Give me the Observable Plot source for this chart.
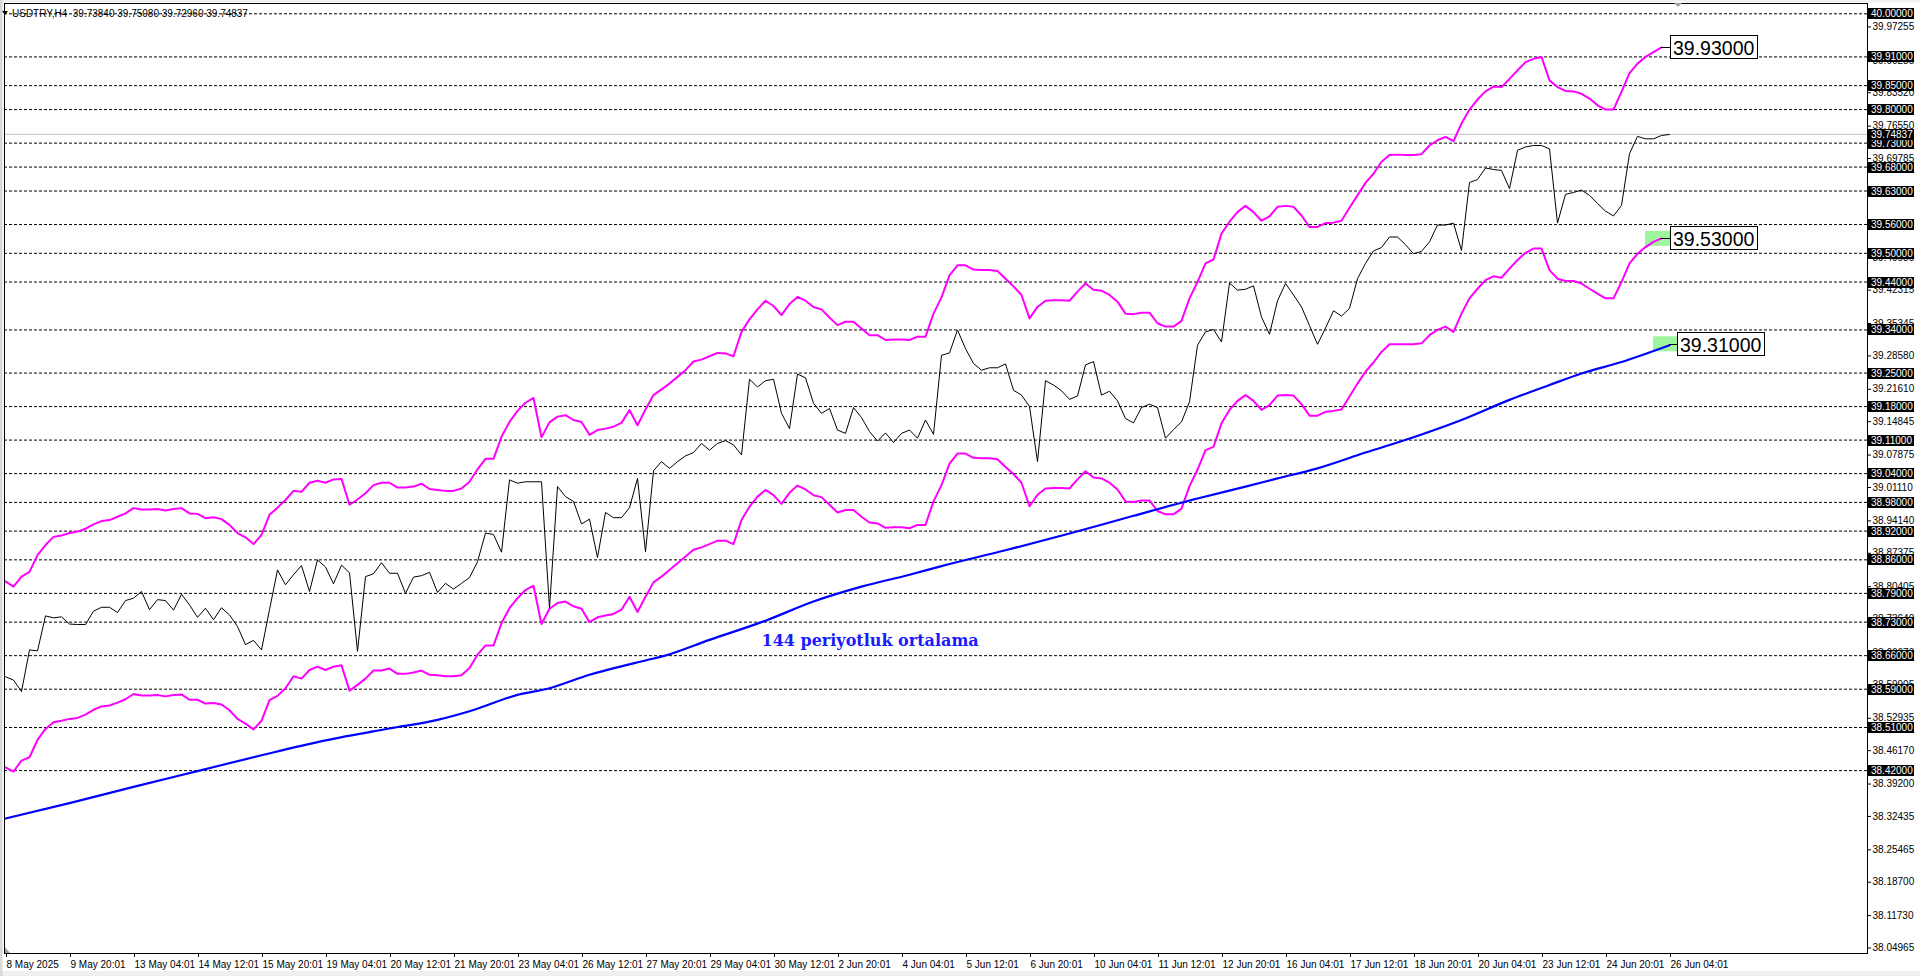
<!DOCTYPE html>
<html><head><meta charset="utf-8">
<script src="https://cdn.jsdelivr.net/npm/d3@7"></script>
<script src="https://cdn.jsdelivr.net/npm/@observablehq/plot@0.6"></script>
<style>html,body{margin:0;padding:0;background:#fff;overflow:hidden}svg{display:block}</style>
</head><body><div id="chart"></div>
<script>
// ---- data ----
const titleText = "USDTRY,H4  39.73840 39.75080 39.72960 39.74837";
const xLabels = ["8 May 2025","9 May 20:01","13 May 04:01","14 May 12:01","15 May 20:01","19 May 04:01","20 May 12:01","21 May 20:01","23 May 04:01","26 May 12:01","27 May 20:01","29 May 04:01","30 May 12:01","2 Jun 20:01","4 Jun 04:01","5 Jun 12:01","6 Jun 20:01","10 Jun 04:01","11 Jun 12:01","12 Jun 20:01","16 Jun 04:01","17 Jun 12:01","18 Jun 20:01","20 Jun 04:01","23 Jun 12:01","24 Jun 20:01","26 Jun 04:01"];
const xTickIdx = [0,8,16,24,32,40,48,56,64,72,80,88,96,104,112,120,128,136,144,152,160,168,176,184,192,200,208];
const levels = [40.00,39.91,39.85,39.80,39.73,39.68,39.63,39.56,39.50,39.44,39.34,39.25,39.18,39.11,39.04,38.98,38.92,38.86,38.79,38.73,38.66,38.59,38.51,38.42];
const yTickVals = [39.97255,39.90285,39.83520,39.76550,39.69785,39.62815,39.56050,39.49080,39.42315,39.35345,39.28580,39.21610,39.14845,39.07875,39.01110,38.94140,38.87375,38.80405,38.73640,38.66670,38.59905,38.52935,38.46170,38.39200,38.32435,38.25465,38.18700,38.11730,38.04965];
const lastPrice = 39.74837;

const closeVals = [
38.616,38.609,38.585,38.672,38.670,38.743,38.739,38.741,38.726,38.725,
38.725,38.753,38.761,38.761,38.750,38.775,38.780,38.794,38.756,38.777,
38.775,38.755,38.788,38.766,38.740,38.759,38.735,38.760,38.745,38.721,
38.683,38.692,38.672,38.756,38.839,38.808,38.829,38.848,38.794,38.860,
38.845,38.810,38.849,38.833,38.669,38.825,38.831,38.854,38.832,38.832,
38.790,38.824,38.827,38.834,38.792,38.811,38.799,38.811,38.823,38.856,
38.916,38.913,38.876,39.027,39.020,39.023,39.023,39.023,38.759,39.013,
38.992,38.982,38.935,38.945,38.865,38.959,38.948,38.948,38.969,39.030,
38.877,39.046,39.065,39.051,39.065,39.077,39.084,39.103,39.089,39.103,
39.109,39.100,39.079,39.237,39.221,39.234,39.237,39.166,39.134,39.248,
39.240,39.187,39.166,39.176,39.131,39.124,39.178,39.157,39.128,39.108,
39.125,39.105,39.124,39.131,39.114,39.152,39.122,39.287,39.292,39.340,
39.301,39.270,39.256,39.261,39.261,39.269,39.214,39.204,39.180,39.065,
39.234,39.225,39.213,39.195,39.202,39.267,39.274,39.204,39.212,39.192,
39.155,39.146,39.178,39.185,39.178,39.114,39.132,39.148,39.190,39.308,
39.336,39.341,39.315,39.438,39.423,39.425,39.432,39.367,39.331,39.401,
39.437,39.413,39.388,39.349,39.310,39.344,39.380,39.369,39.385,39.447,
39.479,39.505,39.512,39.534,39.534,39.518,39.499,39.504,39.524,39.559,
39.559,39.563,39.506,39.648,39.654,39.678,39.675,39.673,39.635,39.715,
39.722,39.725,39.725,39.718,39.563,39.623,39.627,39.632,39.621,39.604,
39.588,39.578,39.600,39.708,39.744,39.739,39.739,39.746,39.748];

const upperVals = [
38.815,38.804,38.825,38.835,38.870,38.891,38.908,38.911,38.916,38.919,
38.925,38.934,38.941,38.943,38.950,38.957,38.968,38.965,38.965,38.966,
38.963,38.966,38.968,38.957,38.956,38.947,38.949,38.945,38.933,38.916,
38.907,38.893,38.912,38.954,38.969,38.985,39.004,39.002,39.021,39.025,
39.021,39.028,39.029,38.975,38.986,38.999,39.016,39.021,39.021,39.011,
39.011,39.013,39.019,39.008,39.006,39.004,39.004,39.009,39.023,39.049,
39.071,39.071,39.117,39.148,39.171,39.188,39.198,39.116,39.147,39.159,
39.162,39.152,39.148,39.121,39.131,39.134,39.138,39.146,39.173,39.141,
39.174,39.204,39.216,39.228,39.242,39.256,39.274,39.278,39.285,39.292,
39.291,39.285,39.336,39.362,39.383,39.401,39.390,39.371,39.394,39.409,
39.401,39.388,39.383,39.366,39.350,39.357,39.357,39.343,39.329,39.329,
39.319,39.320,39.320,39.319,39.326,39.326,39.374,39.408,39.454,39.475,
39.475,39.466,39.465,39.465,39.463,39.447,39.431,39.413,39.364,39.388,
39.401,39.402,39.402,39.401,39.420,39.437,39.424,39.422,39.413,39.399,
39.374,39.373,39.376,39.376,39.354,39.347,39.347,39.359,39.406,39.440,
39.479,39.487,39.541,39.566,39.586,39.599,39.586,39.568,39.577,39.597,
39.599,39.597,39.579,39.555,39.555,39.563,39.564,39.568,39.595,39.621,
39.647,39.666,39.691,39.705,39.706,39.705,39.705,39.707,39.725,39.736,
39.743,39.734,39.771,39.800,39.821,39.838,39.848,39.847,39.864,39.882,
39.899,39.906,39.910,39.861,39.847,39.839,39.838,39.833,39.823,39.809,
39.800,39.800,39.837,39.876,39.896,39.910,39.920,39.930];

const lowerVals = [
38.427,38.418,38.441,38.448,38.484,38.507,38.521,38.524,38.528,38.530,
38.537,38.547,38.554,38.556,38.562,38.569,38.580,38.577,38.577,38.578,
38.575,38.578,38.579,38.568,38.568,38.560,38.561,38.558,38.546,38.528,
38.518,38.506,38.524,38.567,38.576,38.592,38.617,38.612,38.630,38.637,
38.630,38.637,38.640,38.587,38.599,38.612,38.629,38.629,38.633,38.622,
38.622,38.625,38.629,38.620,38.619,38.617,38.617,38.619,38.634,38.662,
38.681,38.681,38.728,38.759,38.780,38.797,38.806,38.726,38.758,38.770,
38.773,38.763,38.758,38.730,38.740,38.744,38.747,38.756,38.783,38.751,
38.783,38.813,38.825,38.839,38.853,38.867,38.881,38.886,38.893,38.900,
38.900,38.893,38.943,38.971,38.992,39.006,38.995,38.977,39.000,39.015,
39.007,38.995,38.991,38.975,38.959,38.964,38.964,38.950,38.938,38.936,
38.927,38.928,38.928,38.926,38.933,38.933,38.982,39.016,39.061,39.082,
39.082,39.073,39.072,39.072,39.070,39.054,39.039,39.021,38.972,38.996,
39.009,39.010,39.010,39.009,39.028,39.045,39.032,39.030,39.021,39.007,
38.982,38.981,38.984,38.984,38.962,38.955,38.955,38.967,39.014,39.048,
39.089,39.096,39.145,39.173,39.192,39.204,39.192,39.173,39.183,39.203,
39.204,39.203,39.185,39.161,39.161,39.169,39.171,39.174,39.201,39.228,
39.253,39.272,39.294,39.310,39.310,39.310,39.310,39.312,39.329,39.340,
39.347,39.336,39.374,39.406,39.426,39.444,39.452,39.449,39.468,39.486,
39.501,39.510,39.510,39.465,39.447,39.442,39.442,39.437,39.426,39.416,
39.406,39.406,39.440,39.479,39.499,39.513,39.524,39.531];

const maIdx = [0,8,16,24,32,40,48,54,58,64,68,73,80,82,88,95,101,107,113,117,125,133,141,149,155,159,164,170,176,182,188,193,197,202,208];
const maVal = [38.320,38.352,38.386,38.419,38.452,38.483,38.508,38.526,38.544,38.578,38.592,38.620,38.650,38.658,38.693,38.733,38.773,38.804,38.829,38.847,38.880,38.915,38.952,38.988,39.013,39.030,39.051,39.084,39.116,39.152,39.194,39.225,39.249,39.273,39.308];

const priceLabels = [
  {text:"39.93000", idx:207, value:39.93, gap:9, green:false},
  {text:"39.53000", idx:207, value:39.53, gap:9, green:true},
  {text:"39.31000", idx:208, value:39.31, gap:8, green:true}
];
const annotation = [{text:"144 periyotluk ortalama", idx:94.5, value:38.680}];

// ---- chart ----
const chart = Plot.plot({
  width:1920, height:976,
  marginTop:3, marginRight:53, marginBottom:23, marginLeft:4,
  x:{domain:[-0.125,232.75]},
  y:{domain:[38.0382,40.0215]},
  style:{background:"#fff", fontFamily:"'Liberation Sans', Arial, sans-serif", fontSize:"10px", color:"#000"},
  marks:[
    Plot.ruleY(levels,{stroke:"#000", strokeDasharray:"3,2", strokeWidth:1}),
    Plot.ruleY([lastPrice],{stroke:"#c0c0c0", strokeWidth:1}),
    Plot.line(upperVals,{x:(d,i)=>i, y:d=>d, stroke:"#ff00ff", strokeWidth:2}),
    Plot.line(lowerVals,{x:(d,i)=>i, y:d=>d, stroke:"#ff00ff", strokeWidth:2}),
    Plot.line(closeVals,{x:(d,i)=>i, y:d=>d, stroke:"#000", strokeWidth:1}),
    Plot.line(maIdx,{x:d=>d, y:(d,i)=>maVal[i], stroke:"#0000ff", strokeWidth:2.2, curve:"monotone-x"}),
    Plot.text(annotation,{x:"idx", y:"value", text:"text", textAnchor:"start", lineAnchor:"bottom",
      fontFamily:"'DejaVu Serif', serif", fontWeight:"bold", fontSize:16, fill:"#1a1aff"}),
    Plot.frame({stroke:"#000"}),
    Plot.axisX(xTickIdx,{tickFormat:d=>xLabels[xTickIdx.indexOf(d)], textAnchor:"start", dx:1,
      tickSize:4, tickPadding:3, fontSize:10, label:null}),
    Plot.axisY(yTickVals,{anchor:"right", tickSize:3, tickPadding:2, tickFormat:d=>d.toFixed(5), fontSize:10, label:null})
  ]
});
document.getElementById("chart").appendChild(chart);

const svg = d3.select(chart);
const xs = chart.scale("x"), ys = chart.scale("y");
const X = v => xs.apply(v), Y = v => ys.apply(v);
const FONT = "'Liberation Sans', Arial, sans-serif";
const addText = (x, y, str, size, fill) => svg.append("text")
  .attr("x", x).attr("y", y).attr("text-anchor", "start").attr("dominant-baseline", "central")
  .attr("font-family", FONT).attr("font-size", size).attr("fill", fill).text(str);

// green highlight patches under the lines
priceLabels.filter(l=>l.green).forEach(l=>{
  const xe = X(l.idx), y = Y(l.value);
  svg.insert("rect", ":first-child")
    .attr("x", xe-16).attr("y", y-7.5).attr("width", 16+l.gap+2).attr("height", 15)
    .attr("fill", "#9df59d");
});

// window chrome strips
svg.append("rect").attr("x",0).attr("y",0).attr("width",1920).attr("height",2.5).attr("fill","#f0f0f0");
svg.append("rect").attr("x",0).attr("y",971).attr("width",1920).attr("height",5).attr("fill","#f0f0f0");
svg.append("rect").attr("x",0).attr("y",0).attr("width",2.5).attr("height",976).attr("fill","#d8d8d8");

// right axis boxes for levels and current price
[...levels, lastPrice].forEach(v=>{
  const y = Math.round(Y(v));
  svg.append("rect").attr("x",1868).attr("y",y-5).attr("width",46).attr("height",11).attr("fill","#000");
  addText(1871, y+0.5, v.toFixed(5), 10, "#fff");
});

// price label boxes on chart
priceLabels.forEach(l=>{
  const xe = X(l.idx), y = Math.round(Y(l.value));
  const bx = Math.round(xe+l.gap);
  svg.append("line").attr("x1",xe).attr("x2",bx).attr("y1",y+0.5).attr("y2",y+0.5).attr("stroke","#000");
  svg.append("rect").attr("x",bx+0.5).attr("y",y-11.5).attr("width",87).attr("height",23)
    .attr("fill","#fff").attr("stroke","#000");
  addText(bx+3, y+1, l.text, 19.5, "#000");
});

// title
svg.append("path").attr("d","M2,11 L8,11 L5,15 Z").attr("fill","#000");
svg.append("text").attr("x",12).attr("y",16.5).attr("text-anchor","start")
  .attr("font-family",FONT).attr("font-size",10).attr("fill","#000").text(titleText);
// small gray markers
svg.append("path").attr("d","M5,947 L5,953 L10,953 Z").attr("fill","#a0a0a0");
svg.append("path").attr("d","M1674,3 L1682,3 L1678,7 Z").attr("fill","#a0a0a0");
</script></body></html>
